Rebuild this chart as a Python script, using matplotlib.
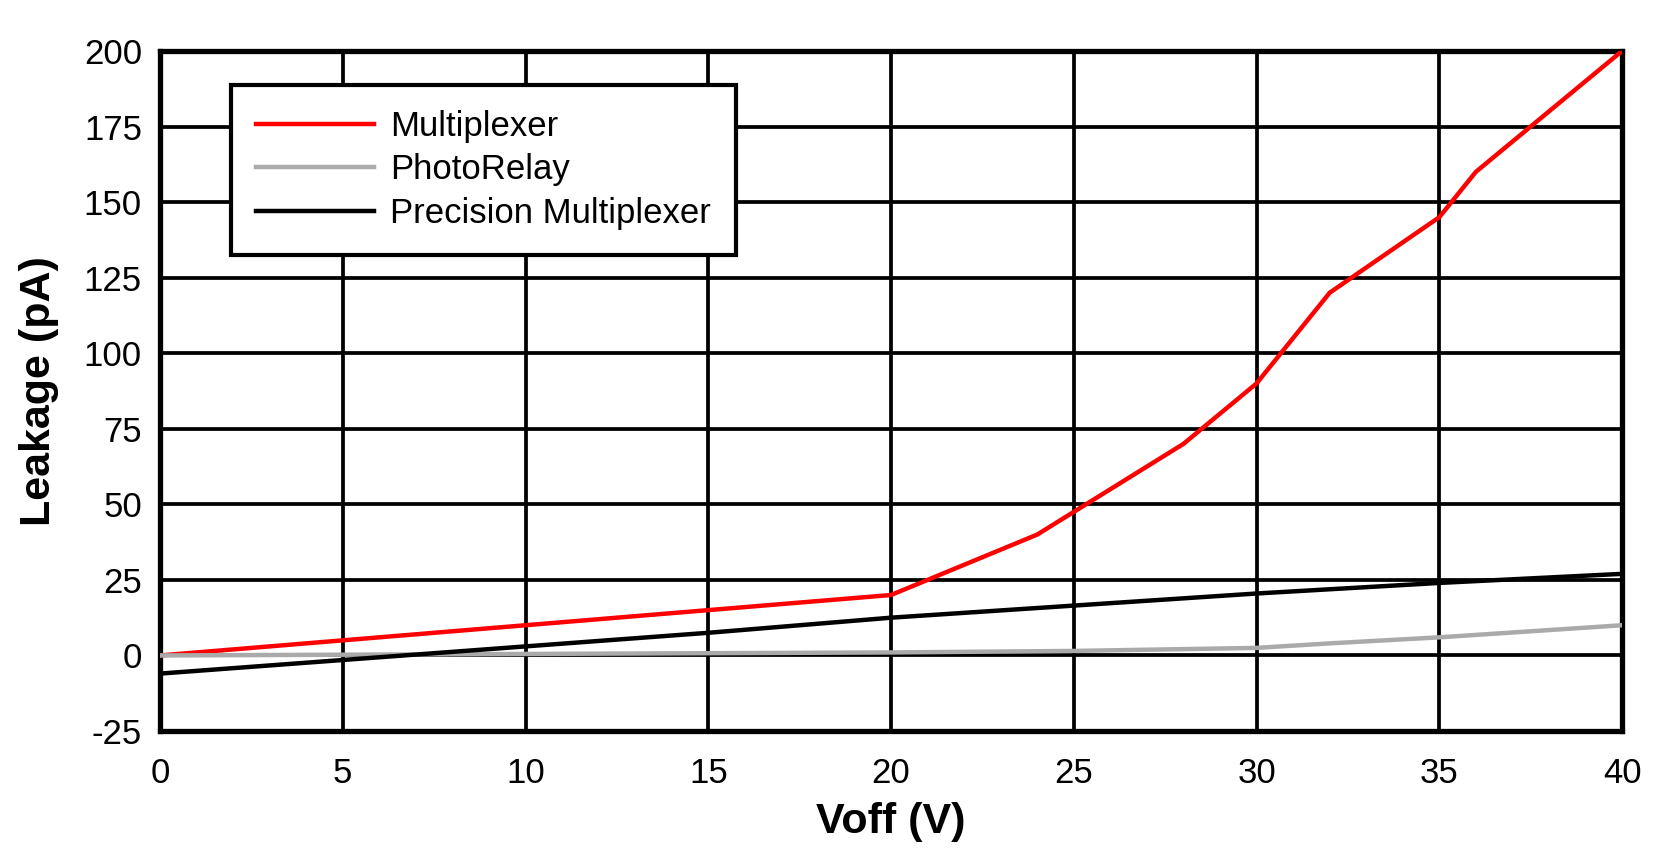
import numpy as np
import matplotlib
matplotlib.use('Agg')
import matplotlib.pyplot as plt

# data
voff_mux = [0, 20, 24, 28, 30, 32, 35, 36, 40]
leak_mux = [0, 20, 40, 70, 90, 120, 145, 160, 200]

voff_relay = [0, 10, 20, 25, 30, 32, 35, 40]
leak_relay = [0, 0.5, 1, 1.5, 2.5, 4, 6, 10]

voff_prec = [0, 5, 10, 15, 20, 25, 30, 35, 40]
leak_prec = [-6, -1.5, 3, 7.5, 12.5, 16.5, 20.5, 24, 27]

x_ticks = [0, 5, 10, 15, 20, 25, 30, 35, 40]
y_ticks = [-25, 0, 25, 50, 75, 100, 125, 150, 175, 200]

plt.rcParams['font.family'] = ['Liberation Sans', 'DejaVu Sans']
plt.rcParams['axes.unicode_minus'] = False

fig = plt.figure(figsize=(16.7, 8.55), dpi=100)
ax = fig.add_axes([0.0958, 0.145, 0.8755, 0.7954])

ax.plot(voff_mux, leak_mux, color='#ff0000', lw=3.2, label='Multiplexer', zorder=3)
ax.plot(voff_relay, leak_relay, color='#aaaaaa', lw=3.2, label='PhotoRelay', zorder=3)
ax.plot(voff_prec, leak_prec, color='black', lw=3.2, label='Precision Multiplexer', zorder=3)

ax.set_xlim(0, 40)
ax.set_ylim(-25, 200)
ax.set_xticks(x_ticks)
ax.set_yticks(y_ticks)
ax.grid(True, color='black', lw=2.7)
ax.set_axisbelow(True)
ax.tick_params(length=0, labelsize=25)
ax.tick_params(axis='x', pad=19)
ax.tick_params(axis='y', pad=13)
for s in ax.spines.values():
    s.set_linewidth(3.8)

ax.set_xlabel('Voff (V)', fontsize=31, fontweight='bold', labelpad=8)
ax.set_ylabel('Leakage (pA)', fontsize=31, fontweight='bold', labelpad=18)

leg = ax.legend(loc='upper left', bbox_to_anchor=(0.0486, 0.95), borderaxespad=0,
                fontsize=25, handlelength=3.4, handletextpad=0.45, labelspacing=0.3,
                borderpad=0.72, fancybox=False, framealpha=1, edgecolor='black')
leg.get_frame().set_linewidth(3)

fig.savefig('out.png', dpi=100)
